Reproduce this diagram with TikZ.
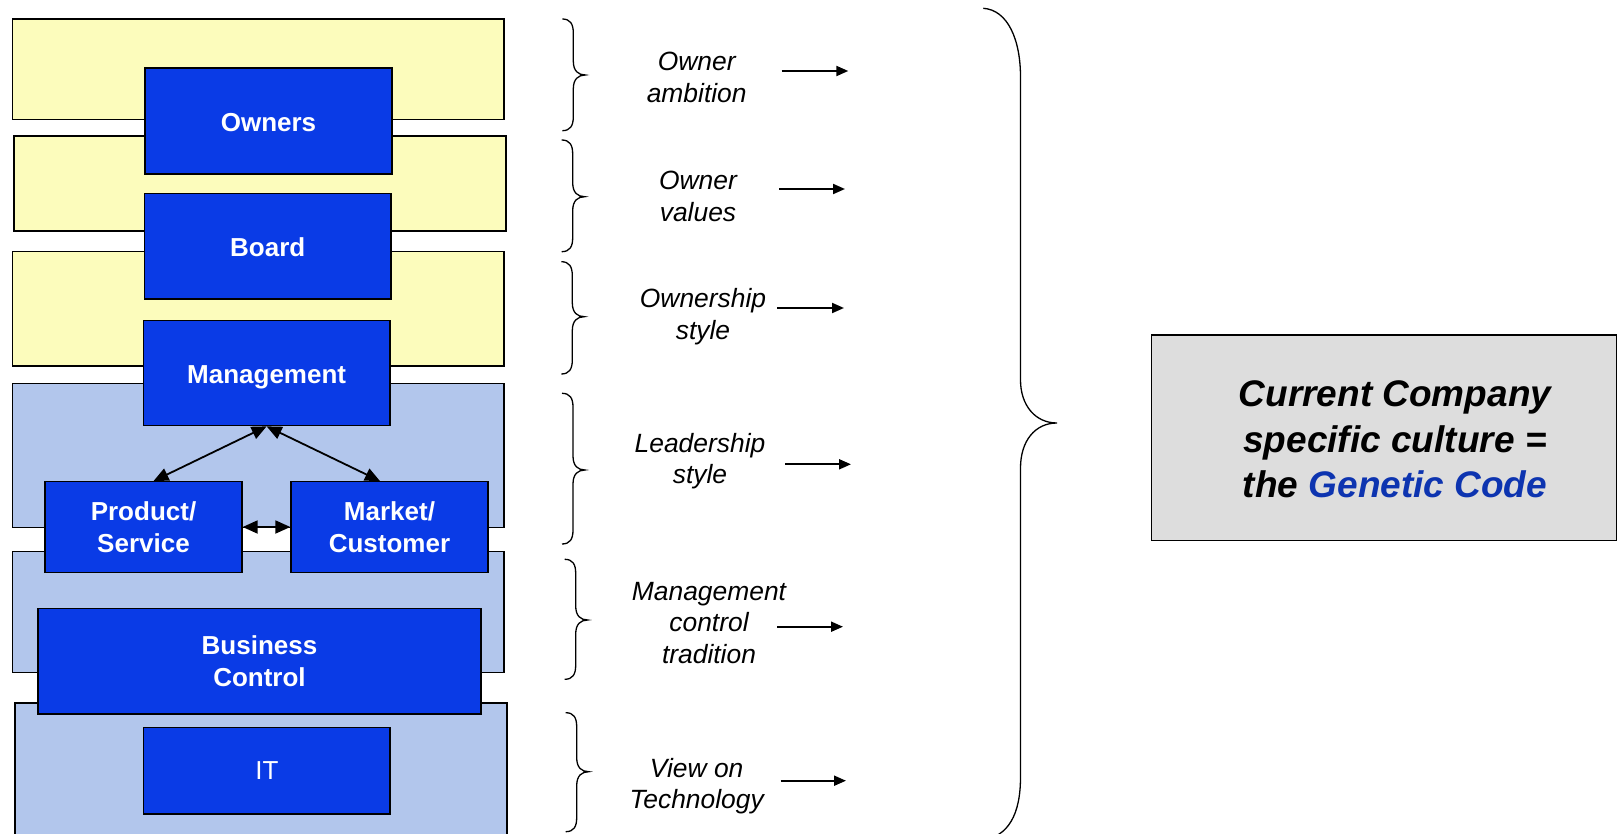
\documentclass[tikz,border=0pt]{standalone}
\usepackage{fontspec}
\setmainfont{Liberation Sans}
\usetikzlibrary{arrows.meta,calc}
\definecolor{bandyellow}{HTML}{FCFCBC}
\definecolor{bandblue}{HTML}{B2C6EC}
\definecolor{boxblue}{HTML}{0A3BE6}
\definecolor{panelgray}{HTML}{DDDDDD}
\definecolor{genblue}{HTML}{0D34B0}

\begin{document}
\begin{tikzpicture}[x=1pt,y=-1pt,
  sz/.style 2 args={minimum width=#1pt,minimum height=#2pt},
  layer/.style={draw=black,line width=1.3pt,inner sep=0pt},
  ylayer/.style={layer,fill=bandyellow},
  blayer/.style={layer,fill=bandblue},
  unit/.style={draw=black,line width=1.3pt,fill=boxblue,text=white,inner sep=0pt,
    align=center,font=\fontsize{26}{31.6}\selectfont\bfseries},
  oneline/.style={text height=21pt,text depth=0pt},
  plainunit/.style={unit,font=\fontsize{26}{31.6}\selectfont},
  lab/.style={align=center,inner sep=0pt,font=\fontsize{26.4}{31.6}\selectfont\itshape},
  flow/.style={-{Triangle[length=12pt,width=10pt]},line width=2pt},
  link/.style={{Triangle[length=15pt,width=13pt]}-{Triangle[length=15pt,width=13pt]},line width=1.8pt},
  curly/.style={line width=1.3pt},
  panel/.style={draw=black,line width=1.3pt,fill=panelgray,inner sep=0pt},
  paneltext/.style={align=center,inner sep=0pt,font=\fontsize{37}{45.3}\selectfont\bfseries\itshape}]

\useasboundingbox (0,0) rectangle (1617,834);
\clip (0,0) rectangle (1617,834);

% background layers
\node[ylayer,sz={491.5}{100.5}] (l1) at (258.25,69.25) {};
\node[ylayer,sz={492}{95}]      (l2) at (260,183.5) {};
\node[ylayer,sz={491.3}{114.3}] (l3) at (258.35,308.85) {};
\node[blayer,sz={491.3}{144.4}] (l4) at (258.35,455.5) {};
\node[blayer,sz={491.3}{121}]   (l5) at (258.35,612.2) {};
\node[blayer,sz={492}{147}]     (l6) at (261,776.5) {};

% organisation boxes
\node[unit,oneline,sz={247}{106}]     (own) at (268.5,121) {Owners};
\node[unit,oneline,sz={246.5}{105.5}] (brd) at (267.75,246.25) {Board};
\node[unit,oneline,sz={246.7}{105.2}] (mgt) at (266.65,373.1) {Management};
\node[unit,sz={197}{90.6}]   (prod) at (143.5,527) {Product/\\Service};
\node[unit,sz={197}{90.6}]   (mkt)  at (389.5,527) {Market/\\Customer};
\node[unit,sz={443}{105.7}]  (bc)   at (259.5,661.15) {Business\\Control};
\node[plainunit,sz={246.3}{86.7}] (it) at (266.85,770.65) {IT};

% relations between the boxes
\draw[link] ($(prod.north)+(10,0)$) -- (mgt.south);
\draw[link] (mgt.south) -- ($(mkt.north)+(-9.5,0)$);
\draw[link] (prod.east) -- (mkt.west);

% small braces: vertical x, top, tip, bottom
\foreach \xv/\yt/\ym/\yb in {573.3/19/75/130.7, 572.7/140/196.7/251.7, 572.3/261.7/316.7/374,
                             573/393.3/470/544, 575.7/559.3/620/679.3, 576.7/712.7/771.7/831.7}{
  \draw[curly] ({\xv-11},\yt) .. controls ({\xv-3},\yt) and (\xv,{\yt+5}) .. (\xv,{\yt+14})
    -- (\xv,{\ym-14}) .. controls (\xv,{\ym-4}) and ({\xv+5},\ym) .. ({\xv+12},\ym)
    .. controls ({\xv+5},\ym) and (\xv,{\ym+4}) .. (\xv,{\ym+14})
    -- (\xv,{\yb-14}) .. controls (\xv,{\yb-5}) and ({\xv-3},\yb) .. ({\xv-11},\yb);
}

% aspect labels
\node[lab] (t1) at (696.7,77.5)  {Owner\\ambition};
\node[lab] (t2) at (698,196.7)   {Owner\\values};
\node[lab] (t3) at (703,316.8)   {Ownership\\style};
\node[lab] (t4) at (700,461.3)   {Leadership\\style};
\node[lab] (t5) at (709,622.8)   {Management\\control\\tradition};
\node[lab] (t6) at (696.7,786)   {View on\\Technology};

% arrow ends
\coordinate (s1) at (781.7,71);   \coordinate (e1) at (848.3,71);
\coordinate (s2) at (779,189);    \coordinate (e2) at (845,189);
\coordinate (s3) at (777,308);    \coordinate (e3) at (844,308);
\coordinate (s4) at (785,464.3);  \coordinate (e4) at (851,464.3);
\coordinate (s5) at (777,626.7);  \coordinate (e5) at (843,626.7);
\coordinate (s6) at (780.7,780.7);\coordinate (e6) at (846,780.7);
\foreach \i in {1,...,6}{\draw[flow] (s\i) -- (e\i);}

% large brace
\draw[curly] (983.3,8.3) .. controls (1008,10) and (1020.5,40) .. (1020.5,77)
  -- (1020.5,380) .. controls (1020.5,405) and (1035,423) .. (1057,423)
  .. controls (1035,423) and (1020.5,441) .. (1020.5,468)
  -- (1020.5,777) .. controls (1020.5,815) and (1008,836) .. (983.3,840);

% summary panel
\node[panel,sz={464.8}{205.7}] (sum) at (1384.1,437.85) {};
\node[paneltext] (sumtext) at (1395,439.5) {Current Company\\specific culture =\\the \textcolor{genblue}{Genetic Code}};

\end{tikzpicture}
\end{document}
